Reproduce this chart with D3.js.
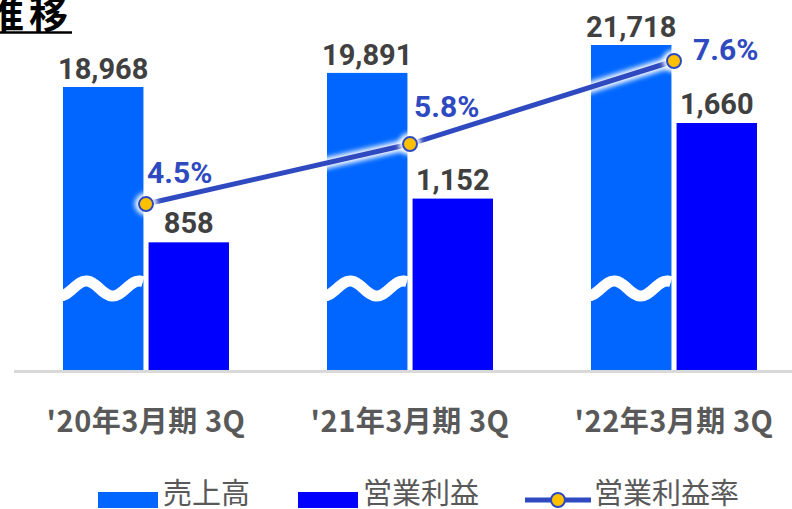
<!DOCTYPE html>
<html>
<head>
<meta charset="utf-8">
<script src="https://cdn.jsdelivr.net/npm/d3@7"></script>
<style>
  body { margin: 0; background: #fff; }
  svg { display: block; }
</style>
</head>
<body>
<script>
// 売上高・営業利益・営業利益率の推移
var categories = ["'20年3月期 3Q", "'21年3月期 3Q", "'22年3月期 3Q"];
var sales = [18968, 19891, 21718];
var profit = [858, 1152, 1660];
var rate = [4.5, 5.8, 7.6];
var legendNames = ["売上高", "営業利益", "営業利益率"];

var w = 792;
var h = 509;
var baseY = 370;
var numFont = "Roboto, 'Noto Sans', sans-serif";
var jpFont = "'Noto Sans CJK JP', 'Noto Sans', sans-serif";
var lineColor = "#2f4ac0";

var svg = d3
  .select("body")
  .append("svg")
  .attr("width", w)
  .attr("height", h);

// glow
var defs = svg.append("defs");
var f = defs.append("filter").attr("id", "glow").attr("x", "-20%").attr("y", "-50%").attr("width", "140%").attr("height", "200%");
f.append("feGaussianBlur").attr("stdDeviation", 2.5);

var x0 = d3.scaleBand().domain(categories).range([14, 806]);
var x1 = d3
  .scaleBand()
  .domain(["sales", "profit"])
  .range([-83, 83])
  .paddingInner(0.06);

// 売上高は波線で省略した軸
var ySales = d3.scaleLinear().domain([440, 21718]).range([baseY, 45]);
var yProfit = d3.scaleLinear().domain([0, 1660]).range([baseY, 123]);
var yRate = d3.scaleLinear().domain([0, 7.6]).range([411.7, 61]);

function cx(i) {
  return x0(categories[i]) + x0.bandwidth() / 2;
}

// タイトル(左が切れている)
svg
  .append("text")
  .attr("x", -15)
  .attr("y", 28)
  .style("font-family", jpFont)
  .style("font-weight", 700)
  .style("font-size", "39px")
  .style("letter-spacing", "5px")
  .attr("fill", "#000")
  .text("推移");
svg
  .append("line")
  .attr("x1", 0)
  .attr("x2", 72)
  .attr("y1", 32.5)
  .attr("y2", 32.5)
  .attr("stroke", "#000")
  .attr("stroke-width", 2.5);

// 売上高
svg
  .selectAll("rect.sales")
  .data(sales)
  .enter()
  .append("rect")
  .attr("class", "sales")
  .attr("x", function(d, i) {
    return cx(i) + x1("sales");
  })
  .attr("y", function(d) {
    return ySales(d);
  })
  .attr("width", x1.bandwidth())
  .attr("height", function(d) {
    return baseY - ySales(d);
  })
  .attr("fill", "#0066ff");

// 営業利益
svg
  .selectAll("rect.profit")
  .data(profit)
  .enter()
  .append("rect")
  .attr("class", "profit")
  .attr("x", function(d, i) {
    return cx(i) + x1("profit");
  })
  .attr("y", function(d) {
    return yProfit(d);
  })
  .attr("width", x1.bandwidth())
  .attr("height", function(d) {
    return baseY - yProfit(d);
  })
  .attr("fill", "#0000ff");

// 波線(省略記号)
var wave = d3
  .line()
  .x(function(t) {
    return t;
  })
  .y(function(t) {
    return 288.5 - 7.5 * Math.sin((2 * Math.PI * (t - 10)) / 53);
  })
  .curve(d3.curveBasis);
svg
  .selectAll("path.wave")
  .data(sales)
  .enter()
  .append("path")
  .attr("class", "wave")
  .attr("transform", function(d, i) {
    return "translate(" + (cx(i) + x1("sales")) + ",0)";
  })
  .attr("d", wave(d3.range(-3, 81, 1)))
  .attr("fill", "none")
  .attr("stroke", "#fff")
  .attr("stroke-width", 11);

// x軸
svg
  .append("line")
  .attr("x1", 14)
  .attr("x2", w)
  .attr("y1", baseY + 1.5)
  .attr("y2", baseY + 1.5)
  .attr("stroke", "#d9d9d9")
  .attr("stroke-width", 3);

svg
  .selectAll("text.cat")
  .data(categories)
  .enter()
  .append("text")
  .attr("class", "cat")
  .attr("x", function(d, i) {
    return cx(i);
  })
  .attr("y", 432)
  .attr("text-anchor", "middle")
  .style("font-family", jpFont)
  .style("font-weight", 700)
  .style("font-size", "29px")
  .style("letter-spacing", "0.5px")
  .attr("fill", "#595959")
  .text(function(d) {
    return d;
  });

// 値ラベル
svg
  .selectAll("text.sv")
  .data(sales)
  .enter()
  .append("text")
  .attr("class", "sv")
  .attr("x", function(d, i) {
    return cx(i) + x1("sales") + x1.bandwidth() / 2;
  })
  .attr("y", function(d) {
    return ySales(d) - 8;
  })
  .attr("text-anchor", "middle")
  .style("font-family", numFont)
  .style("font-weight", 700)
  .style("font-size", "29px")
  .attr("fill", "#404040")
  .text(function(d) {
    return d3.format(",")(d);
  });

svg
  .selectAll("text.pv")
  .data(profit)
  .enter()
  .append("text")
  .attr("class", "pv")
  .attr("x", function(d, i) {
    return cx(i) + x1("profit") + x1.bandwidth() / 2;
  })
  .attr("y", function(d) {
    return yProfit(d) - 9;
  })
  .attr("text-anchor", "middle")
  .style("font-family", numFont)
  .style("font-weight", 700)
  .style("font-size", "29px")
  .attr("fill", "#404040")
  .text(function(d) {
    return d3.format(",")(d);
  });

// 営業利益率の折れ線
var rateLine = d3
  .line()
  .x(function(d, i) {
    return cx(i);
  })
  .y(function(d) {
    return yRate(d);
  });

svg
  .append("path")
  .datum(rate)
  .attr("d", rateLine)
  .attr("fill", "none")
  .attr("stroke", "#fff")
  .attr("stroke-width", 11)
  .attr("filter", "url(#glow)");

svg
  .append("path")
  .datum(rate)
  .attr("d", rateLine)
  .attr("fill", "none")
  .attr("stroke", lineColor)
  .attr("stroke-width", 5);

svg
  .selectAll("circle.glow")
  .data(rate)
  .enter()
  .append("circle")
  .attr("cx", function(d, i) {
    return cx(i);
  })
  .attr("cy", function(d) {
    return yRate(d);
  })
  .attr("r", 11)
  .attr("fill", "#fff")
  .attr("filter", "url(#glow)");

svg
  .selectAll("circle.pt")
  .data(rate)
  .enter()
  .append("circle")
  .attr("class", "pt")
  .attr("cx", function(d, i) {
    return cx(i);
  })
  .attr("cy", function(d) {
    return yRate(d);
  })
  .attr("r", 7)
  .attr("fill", "#ffc000")
  .attr("stroke", lineColor)
  .attr("stroke-width", 2);

var rateLabelOffset = [[1, -21], [4, -27], [19, -1]];
svg
  .selectAll("text.rv")
  .data(rate)
  .enter()
  .append("text")
  .attr("class", "rv")
  .attr("x", function(d, i) {
    return cx(i) + rateLabelOffset[i][0];
  })
  .attr("y", function(d, i) {
    return yRate(d) + rateLabelOffset[i][1];
  })
  .style("font-family", numFont)
  .style("font-weight", 700)
  .style("font-size", "30px")
  .attr("fill", lineColor)
  .text(function(d) {
    return d.toFixed(1) + "%";
  });

// 凡例
var legend = svg.append("g");
legend.append("rect").attr("x", 98).attr("y", 492).attr("width", 60).attr("height", 16).attr("fill", "#0066ff");
legend.append("rect").attr("x", 298).attr("y", 492).attr("width", 60).attr("height", 16).attr("fill", "#0000ff");
legend
  .append("line")
  .attr("x1", 525)
  .attr("x2", 591)
  .attr("y1", 500)
  .attr("y2", 500)
  .attr("stroke", lineColor)
  .attr("stroke-width", 5);
legend
  .append("circle")
  .attr("cx", 558)
  .attr("cy", 500)
  .attr("r", 7)
  .attr("fill", "#ffc000")
  .attr("stroke", lineColor)
  .attr("stroke-width", 2);

legend
  .selectAll("text")
  .data(legendNames)
  .enter()
  .append("text")
  .attr("x", function(d, i) {
    return [163, 363, 594][i];
  })
  .attr("y", 504)
  .style("font-family", jpFont)
  .style("font-size", "29px")
  .attr("fill", "#595959")
  .text(function(d) {
    return d;
  });
</script>
</body>
</html>
